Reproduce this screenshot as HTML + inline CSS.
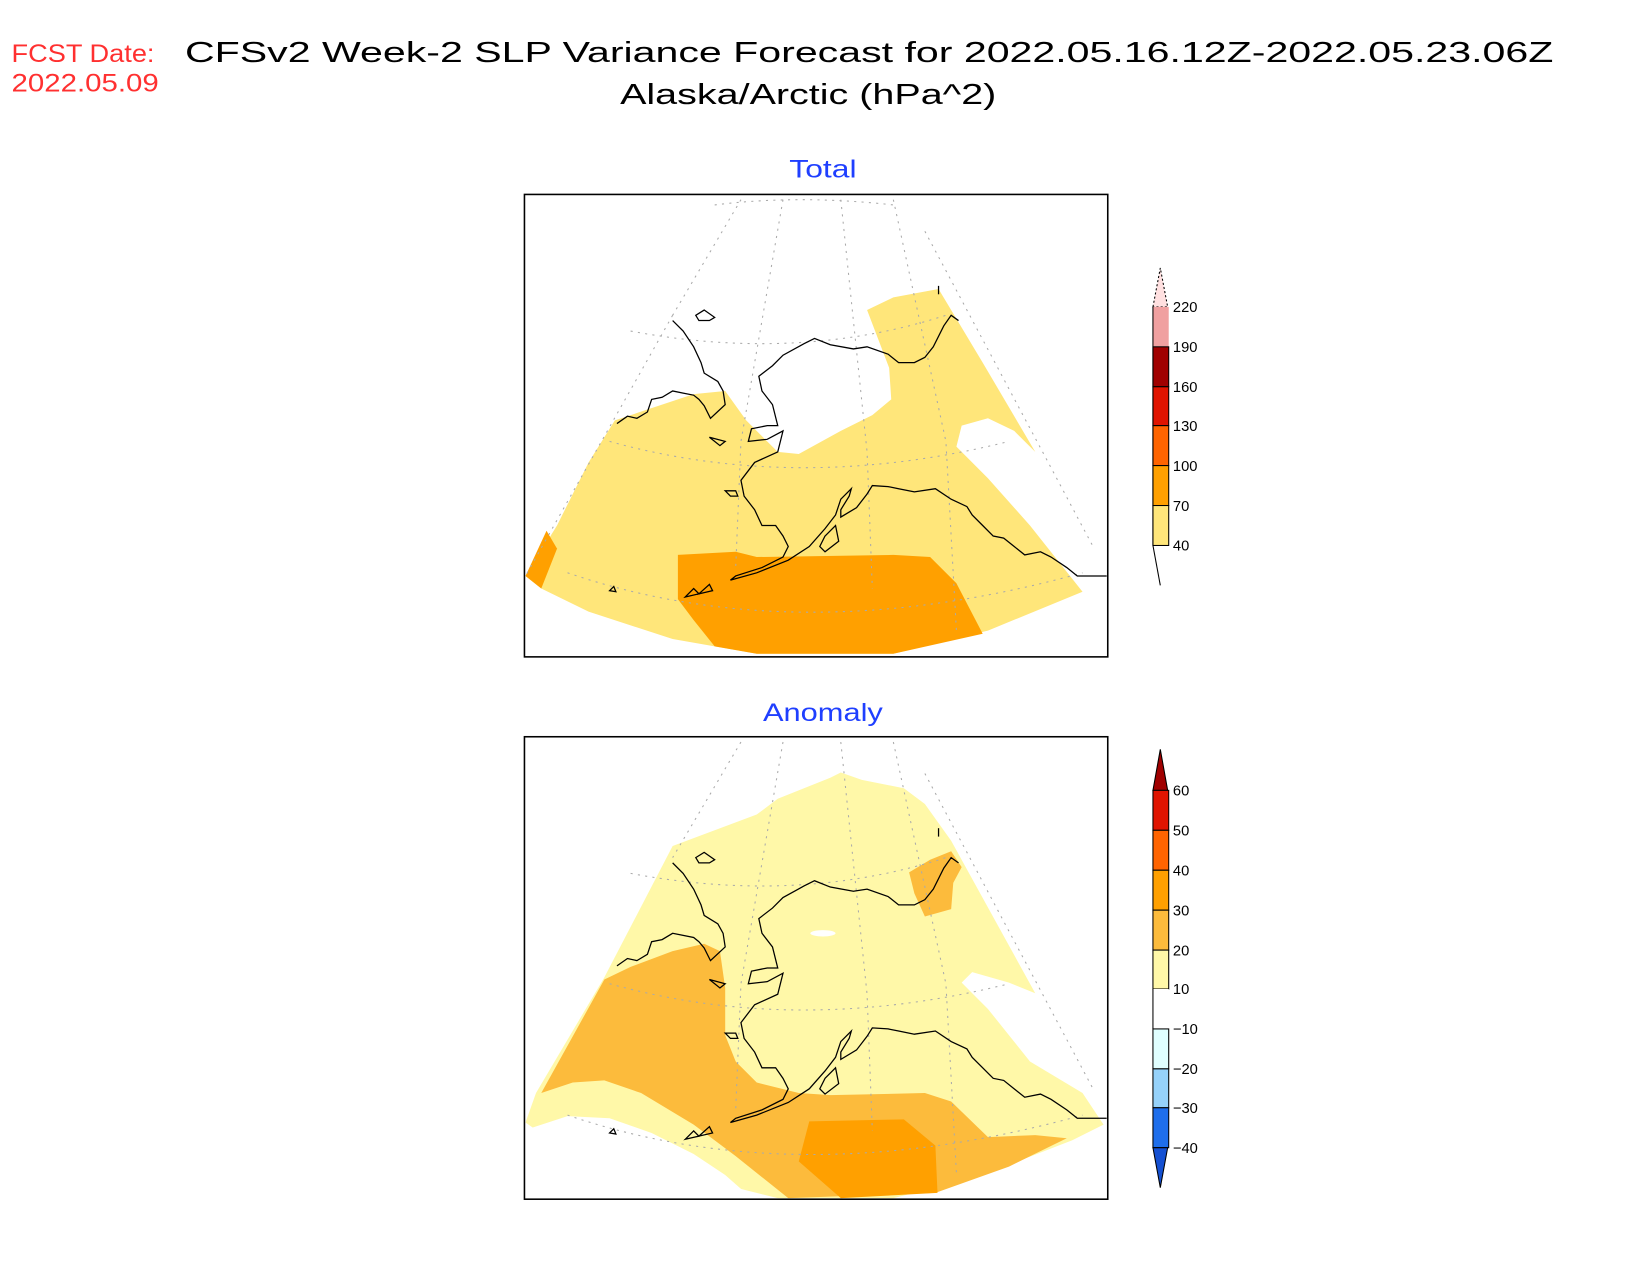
<!DOCTYPE html>
<html><head><meta charset="utf-8"><style>html,body{margin:0;padding:0;background:#fff}svg{display:block}</style></head>
<body>
<svg width="1650" height="1275" viewBox="0 0 1650 1275" xmlns="http://www.w3.org/2000/svg" font-family="Liberation Sans, DejaVu Sans, sans-serif">
<rect width="1650" height="1275" fill="#fff"/>
<g transform="scale(1.051)">
<!-- titles -->
<text x="176" y="59" font-size="27" textLength="1302" lengthAdjust="spacingAndGlyphs" fill="#000">CFSv2 Week-2 SLP Variance Forecast for 2022.05.16.12Z-2022.05.23.06Z</text>
<text x="590" y="99" font-size="27" textLength="358" lengthAdjust="spacingAndGlyphs" fill="#000">Alaska/Arctic (hPa^2)</text>
<text x="11" y="59" font-size="24" textLength="136" lengthAdjust="spacingAndGlyphs" fill="#ff3030">FCST Date:</text>
<text x="11" y="87" font-size="24" textLength="140" lengthAdjust="spacingAndGlyphs" fill="#ff3030">2022.05.09</text>
<text x="751" y="169" font-size="24" textLength="64" lengthAdjust="spacingAndGlyphs" fill="#1f3fff">Total</text>
<text x="726" y="686" font-size="24" textLength="114" lengthAdjust="spacingAndGlyphs" fill="#1f3fff">Anomaly</text>

<!-- TOTAL MAP -->
<g>
<polygon fill="#ffe67a" points="585,400 660,375 690,372 710,400 740,430 760,432 800,410 830,395 848,380 846,350 825,295 850,283 893,275 935,345 985,430 965,410 940,398 915,405 910,425 940,455 980,500 1030,563 940,600 850,622 720,622 640,608 560,582 515,560 500,548 530,500 560,440"/>
<polygon fill="#ffa000" points="645,528 700,525 720,530 850,528 885,530 910,555 935,603 850,622 720,622 680,615 660,590 645,570"/>
<polygon fill="#ffa000" points="500,548 520,505 530,522 515,560"/>
<g stroke="#aaa" stroke-width="1" stroke-dasharray="2,5" fill="none">
<path d="M640,300 L500,548"/><path d="M705,190 L640,300"/><path d="M745,190 L705,420 L700,540"/><path d="M800,190 L825,430 L830,560"/><path d="M850,190 L900,420 L910,600"/><path d="M880,220 L1040,520"/>
<path d="M600,315 Q760,345 900,300"/><path d="M580,420 Q760,470 960,420"/><path d="M540,545 Q760,620 1030,545"/><path d="M680,195 Q760,185 850,195"/>
</g>
<g stroke="#000" stroke-width="1.2" fill="none">
<polyline points="640,305 650,315 660,330 667,345 670,355 683,363 688,372 690,385 676,398 670,386 665,380 660,376 650,374 640,372 630,378 620,380 616,392 606,398 597,396 587,403"/>
<polyline points="912,305 905,300 898,310 888,330 880,340 870,345 855,345 845,337 825,330 812,332 790,328 775,322 765,327 745,338 735,348 722,358 725,372 735,385 740,405 730,405 715,408 712,420 730,418 745,410 740,430 718,440 705,457 708,472 718,485 725,500 738,500 745,510 750,520 745,530 725,540 700,548 695,552 720,545 750,533 770,520 785,503 795,490 800,475 810,465 808,472 800,485 800,492 815,483 825,470 830,462 845,463 855,465 870,468 890,465 905,475 920,482 925,490 935,500 945,510 955,512 965,520 975,528 990,525 1000,530 1015,540 1025,548 1040,548 1053,548"/>
<polygon points="662,300 670,295 680,302 675,305 665,305"/>
<polygon points="675,416 690,420 685,424"/>
<polygon points="690,467 700,467 702,472 695,472"/>
<polygon points="785,510 795,500 798,515 785,525 780,520"/>
<polygon points="652,568 660,560 665,565"/><polygon points="665,565 675,556 678,562"/>
<polygon points="580,562 584,558 586,563"/>
<polyline points="893,272 893,280"/>
</g>
<rect x="499" y="185" width="555" height="440" fill="none" stroke="#000" stroke-width="1.5"/>
</g>

<!-- ANOMALY MAP -->
<g>
<polygon fill="#fff8a8" points="500,1068 510,1040 575,930 640,805 680,790 720,775 740,760 790,740 800,735 820,742 860,750 880,765 905,800 985,945 960,935 925,925 915,935 940,960 980,1010 1030,1040 1050,1070 1020,1085 930,1120 850,1140 740,1140 700,1130 650,1110 600,1085 550,1073 510,1075"/>
<polygon fill="#fff" points="500,1075 540,1062 580,1064 620,1078 660,1098 690,1118 715,1140 500,1140"/>
<polygon fill="#fcbb3c" points="515,1040 545,1030 575,1028 610,1040 660,1070 700,1100 750,1140 890,1135 960,1110 1015,1083 985,1080 940,1082 905,1048 880,1040 790,1042 760,1040 720,1030 700,1010 690,985 690,940 685,905 670,898 640,905 600,920 575,932"/>
<polygon fill="#fcbb3c" points="865,830 885,818 905,810 915,825 907,840 905,865 880,872 870,850"/>
<polygon fill="#ffa000" points="770,1067 860,1065 890,1090 892,1135 800,1140 760,1105"/>
<ellipse cx="783" cy="888" rx="12" ry="3" fill="#fff"/>
<g stroke="#aaa" stroke-width="1" stroke-dasharray="2,5" fill="none">
<path d="M705,706 L640,816"/><path d="M745,706 L705,936 L700,1056"/><path d="M800,706 L825,946 L830,1076"/><path d="M850,706 L900,936 L910,1116"/><path d="M880,736 L1040,1036"/>
<path d="M600,831 Q760,861 900,816"/><path d="M580,936 Q760,986 960,936"/><path d="M540,1061 Q760,1136 1030,1061"/>
</g>
<g stroke="#000" stroke-width="1.2" fill="none" transform="translate(0,516)">
<polyline points="640,305 650,315 660,330 667,345 670,355 683,363 688,372 690,385 676,398 670,386 665,380 660,376 650,374 640,372 630,378 620,380 616,392 606,398 597,396 587,403"/>
<polyline points="912,305 905,300 898,310 888,330 880,340 870,345 855,345 845,337 825,330 812,332 790,328 775,322 765,327 745,338 735,348 722,358 725,372 735,385 740,405 730,405 715,408 712,420 730,418 745,410 740,430 718,440 705,457 708,472 718,485 725,500 738,500 745,510 750,520 745,530 725,540 700,548 695,552 720,545 750,533 770,520 785,503 795,490 800,475 810,465 808,472 800,485 800,492 815,483 825,470 830,462 845,463 855,465 870,468 890,465 905,475 920,482 925,490 935,500 945,510 955,512 965,520 975,528 990,525 1000,530 1015,540 1025,548 1040,548 1053,548"/>
<polygon points="662,300 670,295 680,302 675,305 665,305"/>
<polygon points="675,416 690,420 685,424"/>
<polygon points="690,467 700,467 702,472 695,472"/>
<polygon points="785,510 795,500 798,515 785,525 780,520"/>
<polygon points="652,568 660,560 665,565"/><polygon points="665,565 675,556 678,562"/>
<polygon points="580,562 584,558 586,563"/>
<polyline points="893,272 893,280"/>
</g>
<rect x="499" y="701" width="555" height="440" fill="none" stroke="#000" stroke-width="1.5"/>
</g>

<!-- TOTAL COLORBAR -->
<g stroke="#000" stroke-width="1">
<polygon points="1097,292 1104,255 1111,292" fill="#ffe0e0" stroke-dasharray="2,2"/>
<rect x="1097" y="292" width="15" height="38" fill="#f0a0a0" stroke="none"/>
<rect x="1097" y="330" width="15" height="38" fill="#a00000"/>
<rect x="1097" y="368" width="15" height="37" fill="#e01400"/>
<rect x="1097" y="405" width="15" height="38" fill="#ff6400"/>
<rect x="1097" y="443" width="15" height="38" fill="#ffa000"/>
<rect x="1097" y="481" width="15" height="38" fill="#ffe67a"/>
<polyline points="1097,519 1104,557" fill="none"/>
<line x1="1097" y1="292" x2="1097" y2="519"/>
</g>
<g font-size="14" fill="#000">
<text x="1116" y="297">220</text><text x="1116" y="335">190</text><text x="1116" y="373">160</text><text x="1116" y="410">130</text><text x="1116" y="448">100</text><text x="1116" y="486">70</text><text x="1116" y="524">40</text>
</g>

<!-- ANOMALY COLORBAR -->
<g stroke="#000" stroke-width="1">
<polygon points="1097,752 1104,713 1111,752" fill="#a00000"/>
<rect x="1097" y="752" width="15" height="38" fill="#e01400"/>
<rect x="1097" y="790" width="15" height="38" fill="#ff6400"/>
<rect x="1097" y="828" width="15" height="38" fill="#ffa000"/>
<rect x="1097" y="866" width="15" height="38" fill="#fcbb3c"/>
<rect x="1097" y="904" width="15" height="37" fill="#fff8a8"/>
<rect x="1097" y="941" width="15" height="38" fill="#fff" stroke="none"/>
<rect x="1097" y="979" width="15" height="38" fill="#e0ffff"/>
<rect x="1097" y="1017" width="15" height="37" fill="#96d2fa"/>
<rect x="1097" y="1054" width="15" height="38" fill="#1e6eeb"/>
<polygon points="1097,1092 1104,1130 1111,1092" fill="#1450d2"/>
<line x1="1097" y1="941" x2="1097" y2="979"/>
</g>
<g font-size="14" fill="#000">
<text x="1116" y="757">60</text><text x="1116" y="795">50</text><text x="1116" y="833">40</text><text x="1116" y="871">30</text><text x="1116" y="909">20</text><text x="1116" y="946">10</text>
<text x="1116" y="984">−10</text><text x="1116" y="1022">−20</text><text x="1116" y="1059">−30</text><text x="1116" y="1097">−40</text>
</g>
</g>
</svg>
</body></html>
